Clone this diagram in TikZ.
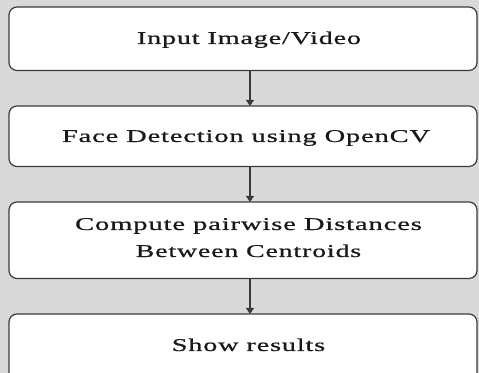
\documentclass[tikz,border=0pt]{standalone}
\usepackage{fontspec}
\usepackage{graphicx}
\setmainfont{Liberation Serif}[LetterSpace=3, FakeBold=0.6]
\usetikzlibrary{arrows.meta}
\definecolor{bggray}{HTML}{D9D9D9}
\definecolor{edge}{HTML}{3A3A3A}
\newcommand{\fitw}[2]{\resizebox{#1}{\height}{#2}}
\tikzset{
  stepbox/.style={draw=edge, line width=0.9pt, fill=white, rounded corners=6pt,
    minimum width=351pt, inner sep=0pt, outer sep=0pt},
  label/.style={inner sep=0pt, outer sep=0pt, anchor=base, text=black!90,
    font=\fontsize{13.5pt}{20.25pt}\selectfont, align=center},
  flow/.style={draw=edge, line width=0.8pt, -{Triangle[length=4.5pt,width=6pt]}}
}
\begin{document}
\begin{tikzpicture}[x=0.75pt,y=-0.75pt]
\useasboundingbox (0,0) rectangle (479,373);
\clip (0,0) rectangle (479,373);
\fill[bggray] (0,0) rectangle (479,373);

\node[stepbox, minimum height=47.6pt] (b1) at (243,38.75) {};
\node[stepbox, minimum height=45.4pt] (b2) at (243,136.25) {};
\node[stepbox, minimum height=57.4pt] (b3) at (243,240.25) {};
\node[stepbox, minimum height=52.5pt] (b4) at (243,349) {};

\node[label] (t1) at (249,44) {\fitw{168pt}{Input Image/Video}};
\node[label] (t2) at (246,142) {\fitw{276pt}{Face Detection using OpenCV}};
\node[label] (t3) at (248.5,257) {\fitw{260pt}{Compute pairwise Distances}\\\fitw{169pt}{Between Centroids}};
\node[label] (t4) at (248.5,351) {\fitw{115pt}{Show results}};

\draw[flow] ([xshift=5.25pt]b1.south) -- ([xshift=5.25pt]b2.north);
\draw[flow] ([xshift=5.25pt]b2.south) -- ([xshift=5.25pt]b3.north);
\draw[flow] ([xshift=5.25pt]b3.south) -- ([xshift=5.25pt]b4.north);
\end{tikzpicture}
\end{document}
